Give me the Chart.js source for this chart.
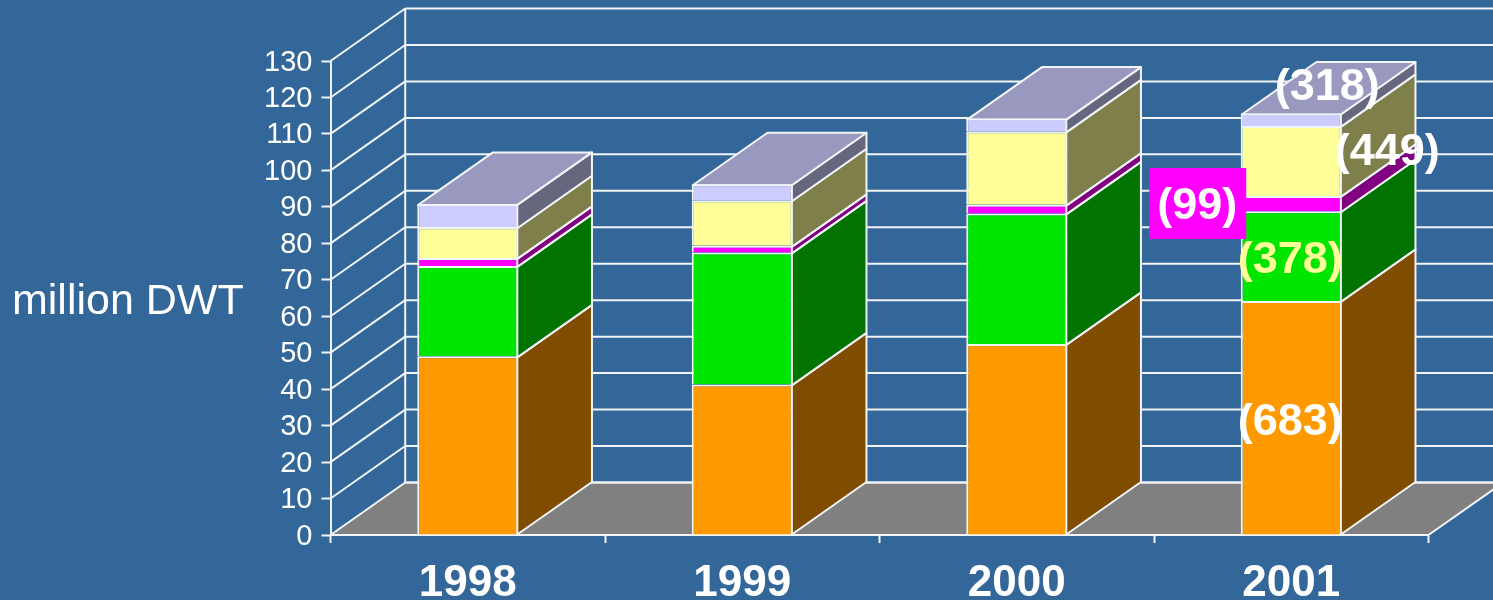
<!DOCTYPE html>
<html><head><meta charset="utf-8">
<style>html,body{margin:0;padding:0;background:#336699;overflow:hidden}canvas{display:block}</style>
<script src="https://cdn.jsdelivr.net/npm/chart.js@4"></script>
</head><body>
<canvas id="c" width="1493" height="600"></canvas>
<script>
const categories = ['1998','1999','2000','2001'];
const tanker = [49.0, 41.3, 52.4, 64.2];
const dryBulk = [24.8, 36.2, 35.8, 24.6];
const combined = [2.2, 1.8, 2.4, 4.2];
const container = [8.4, 12.5, 20.1, 19.2];
const other = [6.4, 4.4, 3.5, 3.4];
const yAxisTitle = 'million DWT';
const faceColors = ['#FF9900','#00E600','#FF00FF','#FFFF99','#CCCCFF'];
const sideColors = ['#7F4C00','#007300','#800080','#7F7F4C','#66667F'];
const topColor = '#9999BF';
const labelTexts = ['(683)','(378)','(99)','(449)','(318)'];
const labelColors = ['#FFFFFF','#FFFF99','#FFFFFF','#FFFFFF','#FFFFFF'];
const seriesValues = [tanker, dryBulk, combined, container, other];

const DX = 74.7, DY = -52.5, LINE = '#F2F5F8';
const FONT = '"Liberation Sans", Arial, sans-serif';

function poly(ctx, pts, fill){
  ctx.beginPath();
  pts.forEach((p,i)=> i ? ctx.lineTo(p[0],p[1]) : ctx.moveTo(p[0],p[1]));
  ctx.closePath();
  if(fill){ctx.fillStyle=fill;ctx.fill();}
  ctx.stroke();
}
function seg(ctx,x1,y1,x2,y2){ctx.beginPath();ctx.moveTo(x1,y1);ctx.lineTo(x2,y2);ctx.stroke();}

const wall3d = {
  id:'wall3d',
  beforeDatasetsDraw(chart){
    const {ctx,chartArea:a,scales:{y}} = chart;
    ctx.save();
    ctx.strokeStyle=LINE;ctx.lineWidth=2;ctx.lineJoin='round';
    const base=y.getPixelForValue(0);
    poly(ctx,[[a.left,base],[a.left+DX,base+DY],[a.right+DX,base+DY],[a.right,base]],'#808080');
    y.ticks.forEach(t=>{
      const py=y.getPixelForValue(t.value);
      if(t.value>0) seg(ctx,a.left,py,a.left+DX,py+DY);
      seg(ctx,a.left+DX,py+DY,a.right+DX,py+DY);
    });
    seg(ctx,a.left+DX,y.getPixelForValue(y.max)+DY,a.left+DX,base+DY);
    // side and top faces of every bar
    seriesValues.forEach((_,d)=>{
      chart.getDatasetMeta(d).data.forEach(b=>{
        const r=b.x+b.width/2-1;
        const ty=b.y+1, by=d===0?b.base:b.base+1;
        poly(ctx,[[r,ty],[r+DX,ty+DY],[r+DX,by+DY],[r,by]],sideColors[d]);
        if(d===seriesValues.length-1){
          const l=b.x-b.width/2+1;
          poly(ctx,[[l,ty],[l+DX,ty+DY],[r+DX,ty+DY],[r,ty]],topColor);
        }
      });
    });
    ctx.restore();
  },
  afterDraw(chart){
    const {ctx}=chart;
    ctx.save();
    ctx.textBaseline='middle';
    // y axis title
    ctx.fillStyle='#FFFFFF';
    ctx.font='43px '+FONT;
    ctx.textAlign='left';
    ctx.fillText(yAxisTitle,12,302);
    ctx.textAlign='center';
    // labels for the last category
    const last=categories.length-1;
    const offX=[-1,-1,-94,96,36];
    const labelY=[423,261,207,153,88];
    const boxY=205;
    seriesValues.forEach((_,d)=>{
      const b=chart.getDatasetMeta(d).data[last];
      const cx=b.x+offX[d], cy=labelY[d];
      if(d===2){ctx.fillStyle='#FF00FF';ctx.fillRect(cx-48,boxY-37,97,71);}
      ctx.font='bold 45px '+FONT;
      ctx.fillStyle=labelColors[d];
      ctx.fillText(labelTexts[d],cx,cy);
    });
    ctx.restore();
  }
};

new Chart(document.getElementById('c'),{
  type:'bar',
  data:{labels:categories,datasets:seriesValues.map((v,i)=>({
    label:'s'+i,data:v,backgroundColor:faceColors[i],borderColor:LINE,borderWidth:2,borderSkipped:'bottom'
  }))},
  plugins:[wall3d],
  options:{
    responsive:false,animation:false,
    layout:{padding:{left:0,right:64.5,top:61,bottom:0}},
    datasets:{bar:{barPercentage:0.368,categoryPercentage:1}},
    plugins:{legend:{display:false},tooltip:{enabled:false},title:{display:false}},
    scales:{
      x:{stacked:true,offset:true,
        grid:{offset:true,drawOnChartArea:false,drawTicks:true,tickLength:8,tickWidth:2,tickColor:LINE},
        border:{color:LINE,width:2},
        ticks:{color:'#FFFFFF',font:{family:FONT,size:44,weight:'bold'},padding:14,maxRotation:0,autoSkip:false},
        afterFit(s){s.height=65;}
      },
      y:{stacked:true,min:0,max:130,
        grid:{drawOnChartArea:false,drawTicks:true,tickLength:9,tickWidth:2,tickColor:LINE},
        border:{color:LINE,width:2},
        ticks:{stepSize:10,color:'#FFFFFF',font:{family:FONT,size:29},padding:9,autoSkip:false,labelOffset:1.5},
        afterFit(s){s.width=330.5;}
      }
    }
  }
});
</script>
</body></html>
